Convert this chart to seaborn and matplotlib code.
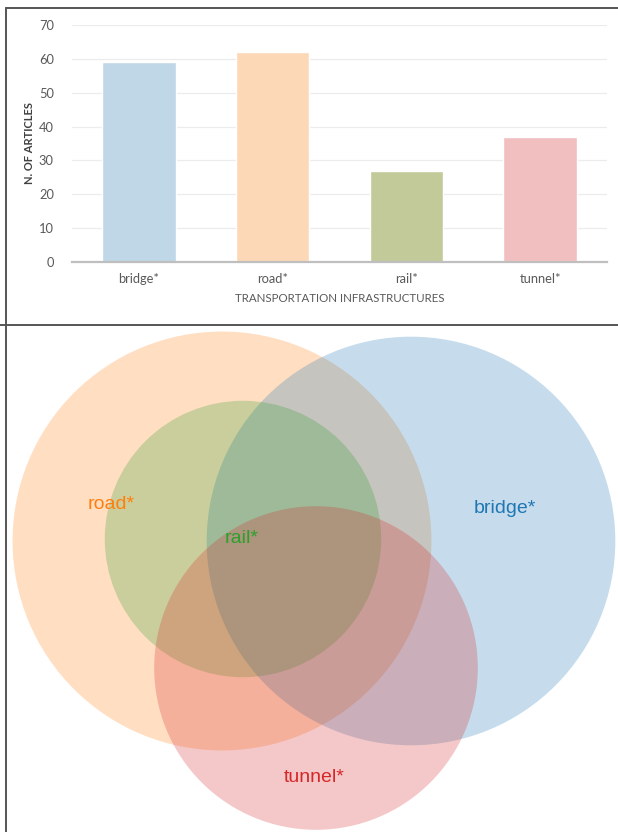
import numpy as np
import matplotlib
matplotlib.use("Agg")
import matplotlib.pyplot as plt
import seaborn as sns
from matplotlib.patches import Circle
from matplotlib.lines import Line2D

# DATA
categories = ["bridge*", "road*", "rail*", "tunnel*"]
articles = [59, 62, 27, 37]
bar_colors = ["#c0d7e8", "#fdd8b7", "#c3ca99", "#f2bfc1"]

venn_sets = ["road*", "bridge*", "rail*", "tunnel*"]
venn_counts = [62, 59, 27, 37]
venn_colors = ["tab:orange", "tab:blue", "tab:green", "tab:red"]
# layout of the venn (pixel units of the lower panel)
venn_centers = [(222, 541), (411, 541), (243, 539), (316, 668)]
venn_label_pos = [(111, 505), (505, 509), (242, 539), (314, 778)]
radius_scale = 26.6

sns.set_style("white")
plt.rcParams['font.family'] = ['Lato', 'DejaVu Sans']

W, H = 618, 832
fig = plt.figure(figsize=(W / 100, H / 100), dpi=100)

# ---- BAR CHART ----
ax = fig.add_axes([72 / W, 1 - 262 / H, (607 - 72) / W, (262 - 25) / H])
sns.barplot(x=categories, y=articles, palette=bar_colors, hue=categories,
            legend=False, width=0.55, saturation=1, ax=ax)
ax.set_ylim(0, 70)
ax.set_xlim(-0.5, 3.5)
ax.set_yticks(range(0, 71, 10))
ax.yaxis.grid(True, color="#ececec", linewidth=0.9)
ax.set_axisbelow(True)
for s in ["top", "right", "left"]:
    ax.spines[s].set_visible(False)
ax.spines["bottom"].set_color("#bfbfbf")
ax.spines["bottom"].set_linewidth(1.6)
ax.tick_params(axis="both", length=0, labelsize=9.3, colors="#595959")
ax.tick_params(axis="y", pad=13)
ax.tick_params(axis="x", pad=8)
ax.set_ylabel("N. OF ARTICLES", fontsize=8, fontweight="bold", color="#404040", labelpad=3)
ax.set_xlabel("TRANSPORTATION INFRASTRUCTURES", fontsize=8.3, color="#595959", labelpad=6)

# ---- VENN ----
vax = fig.add_axes([0, 0, 1, (H - 325) / H])
vax.set_xlim(0, W)
vax.set_ylim(H, 325)
vax.axis("off")
for name, n, c, (cx, cy), (lx, ly) in zip(venn_sets, venn_counts, venn_colors,
                                           venn_centers, venn_label_pos):
    r = radius_scale * np.sqrt(n)
    vax.add_patch(Circle((cx, cy), r, facecolor=c, alpha=0.25, edgecolor="none"))
    vax.text(lx, ly, name, color=c, fontsize=14, ha="center", va="center",
             family=["Liberation Sans", "DejaVu Sans"])

# ---- PANEL FRAMES ----
frame = dict(color="#555555", linewidth=1.4, transform=fig.transFigure)
fig.add_artist(Line2D([6 / W, 1], [1 - 8 / H, 1 - 8 / H], **frame))
fig.add_artist(Line2D([6 / W, 6 / W], [0, 1 - 8 / H], **frame))
fig.add_artist(Line2D([0, 1], [1 - 325 / H, 1 - 325 / H], **frame))

fig.savefig("out.png", dpi=100)
